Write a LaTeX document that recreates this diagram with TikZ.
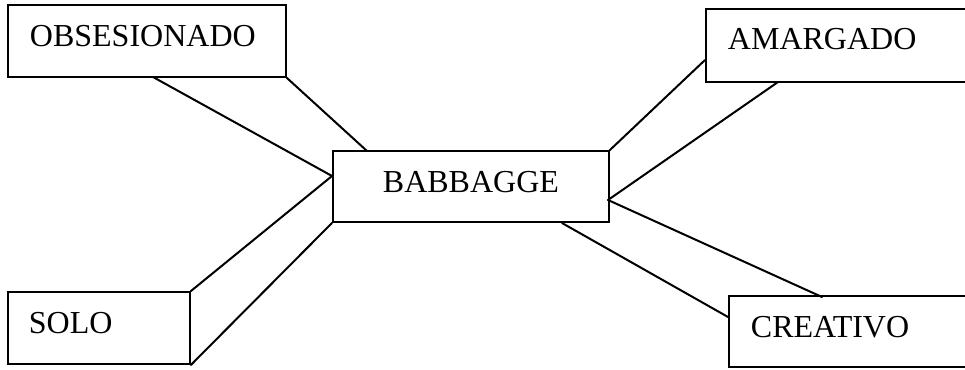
\documentclass[tikz,border=0pt]{standalone}
\usepackage{fontspec}
\setmainfont{Liberation Serif}
\usetikzlibrary{calc}
\begin{document}
\begin{tikzpicture}[x=1pt,y=-1pt,
  box/.style={draw, line width=1.9pt, rectangle, inner ysep=0pt, inner xsep=22pt,
    font=\fontsize{32}{32}\selectfont, anchor=base west, align=left},
  link/.style={line width=2pt, line cap=round}]
\useasboundingbox (0,0) rectangle (965,369);
\fill[white] (0,0) rectangle (965,369);
% boxes
\node[box, text width=234pt, text height=41pt, text depth=31pt] (obs) at (7,46) {OBSESIONADO};
\node[box, text width=226pt, text height=40pt, text depth=33pt] (ama) at (705,49) {AMARGADO};
\node[box, inner xsep=10pt, align=center, text width=256pt, text height=41pt, text depth=30pt] (bab) at (332,192) {BABBAGGE};
\node[box, inner xsep=21pt, text width=140pt, text height=41pt, text depth=31pt] (solo) at (7,333) {SOLO};
\node[box, text width=211pt, text height=41pt, text depth=30pt] (cre) at (728,337) {CREATIVO};
% attachment points
\coordinate (obsB) at (153,77);
\coordinate (babL) at (332,176);
\coordinate (babT) at (367,151);
\coordinate (babR) at (608,200);
\coordinate (babB) at (562,223);
\coordinate (amaL) at (705,60);
\coordinate (amaB) at (778,82);
\coordinate (creT) at (822,297);
\coordinate (creL) at (728,317);
% connectors
\draw[link] (obsB) -- (babL);
\draw[link] (obs.south east) -- (babT);
\draw[link] (solo.north east) -- (babL);
\draw[link] (solo.south east) -- (bab.south west);
\draw[link] (amaL) -- (bab.north east);
\draw[link] (amaB) -- (babR);
\draw[link] (babR) -- (creT);
\draw[link] (babB) -- (creL);
\end{tikzpicture}
\end{document}
